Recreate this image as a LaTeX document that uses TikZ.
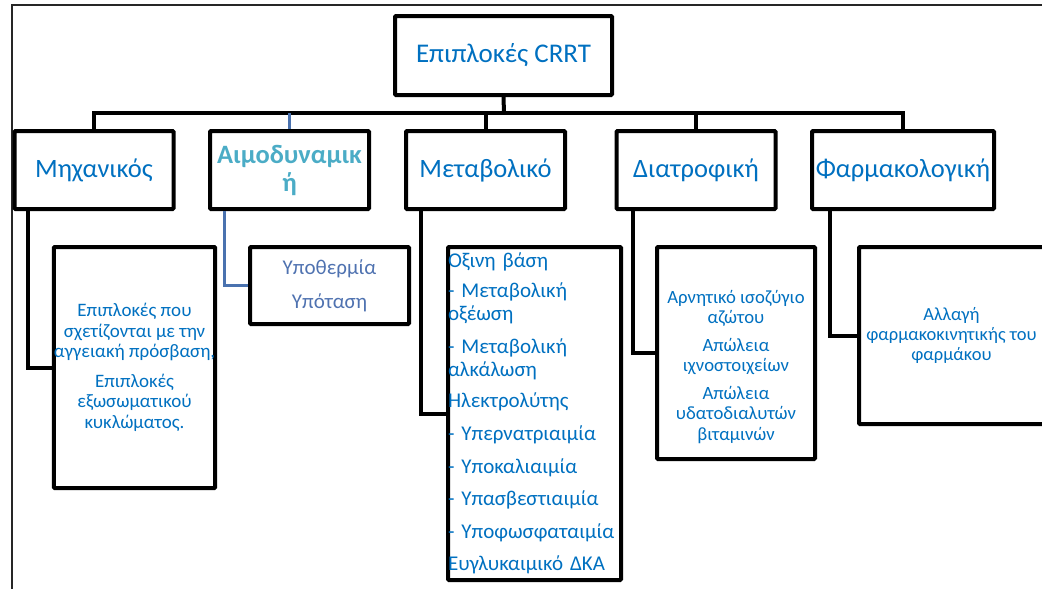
\documentclass[tikz,border=0pt]{standalone}
\usepackage{fontspec}
\setmainfont{Carlito}
\usepackage{xcolor}
\usepackage{tikz}
\definecolor{txtblue}{HTML}{0070C0}
\definecolor{hemoteal}{HTML}{4BACC6}
\definecolor{hemotext}{HTML}{4F72B0}
\definecolor{linkblue}{HTML}{4A72AF}
\tikzset{
    box/.style={draw=black, line width=4pt, rounded corners=1pt, text=txtblue, align=center, inner sep=0pt},
    topbox/.style={box, minimum width=217, minimum height=79, font=\fontsize{27}{32}\selectfont},
    headbox/.style={box, minimum width=159, minimum height=78, font=\fontsize{26.5}{29}\selectfont},
    subbox/.style={box, font=\fontsize{19}{20.5}\selectfont},
    link/.style={draw=black, line width=4pt},
    hemolink/.style={draw=linkblue, line width=3pt},
    frame/.style={draw=black!85, line width=1.3pt}}

\begin{document}
\begin{tikzpicture}[x=1pt, y=-1pt]
    \useasboundingbox (0,0) rectangle (1042,589);
    \draw[frame] (12,589) -- (12,5) -- (1042,5);

    % top level
    \node[topbox] (root) at (503.5,55.5) {Επιπλοκές CRRT};

    % categories
    \node[headbox] (mech) at (94,170) {Μηχανικός};
    \node[headbox, text=hemoteal, font=\bfseries\fontsize{26.5}{28}\selectfont] (hemo) at (289.5,170) {Αιμοδυναμικ\\ή};
    \node[headbox] (meta) at (485.5,170) {Μεταβολικό};
    \node[headbox] (nutr) at (696,170) {Διατροφική};
    \node[headbox, minimum width=182] (pharm) at (903,170) {Φαρμακολογική};

    \coordinate (bus) at (504,113);
    \draw[link] (root.south) -- (bus);
    \draw[link] (mech.north) |- (bus) -| (pharm.north);
    \draw[link] (meta.north) -- (meta.north |- bus);
    \draw[link] (nutr.north) -- (nutr.north |- bus);
    \draw[hemolink] (hemo.north) -- (hemo.north |- bus);

    % details
    \node[subbox, minimum width=159, minimum height=241] (mechsub) at (134.5,367.5)
        {Επιπλοκές που\\σχετίζονται με την\\αγγειακή πρόσβαση,\\[9pt]
         Επιπλοκές\\εξωσωματικού\\κυκλώματος.};
    \node[subbox, minimum width=159, minimum height=77, text=hemotext, font=\fontsize{21}{21}\selectfont] (hemosub) at (329.5,285.5)
        {Υποθερμία\\[13pt]Υπόταση};
    \node[subbox, minimum width=173, minimum height=333, align=left, text width=173, font=\fontsize{21}{23}\selectfont] (metasub) at (534.5,413.5)
        {Οξινη βάση\\[7pt]
         - Μεταβολική\\οξέωση\\[10pt]
         - Μεταβολική\\αλκάλωση\\[8pt]
         Ηλεκτρολύτης\\[10pt]
         - Υπερνατριαιμία\\[10pt]
         - Υποκαλιαιμία\\[9pt]
         - Υπασβεστιαιμία\\[10pt]
         - Υποφωσφαταιμία\\[9pt]
         Ευγλυκαιμικό ΔΚΑ};
    \node[subbox, minimum width=158, minimum height=212, font=\fontsize{18.7}{20.5}\selectfont] (nutrsub) at (736,353)
        {\rule{0pt}{41pt}Αρνητικό ισοζύγιο\\αζώτου\\[7pt]
         Απώλεια\\ιχνοστοιχείων\\[7pt]
         Απώλεια\\υδατοδιαλυτών\\βιταμινών};
    \node[subbox, minimum width=185, minimum height=177, font=\fontsize{18.5}{20}\selectfont] (pharmsub) at (951.5,335.5)
        {Αλλαγή\\φαρμακοκινητικής του\\φαρμάκου};

    \draw[link] ([xshift=15pt]mech.south west) |- (mechsub.west);
    \draw[hemolink] ([xshift=16pt]hemo.south west) |- (hemosub.west);
    \draw[link] ([xshift=17pt]meta.south west) |- (metasub.west);
    \draw[link] ([xshift=18pt]nutr.south west) |- (nutrsub.west);
    \draw[link] ([xshift=20pt]pharm.south west) |- (pharmsub.west);
\end{tikzpicture}
\end{document}
